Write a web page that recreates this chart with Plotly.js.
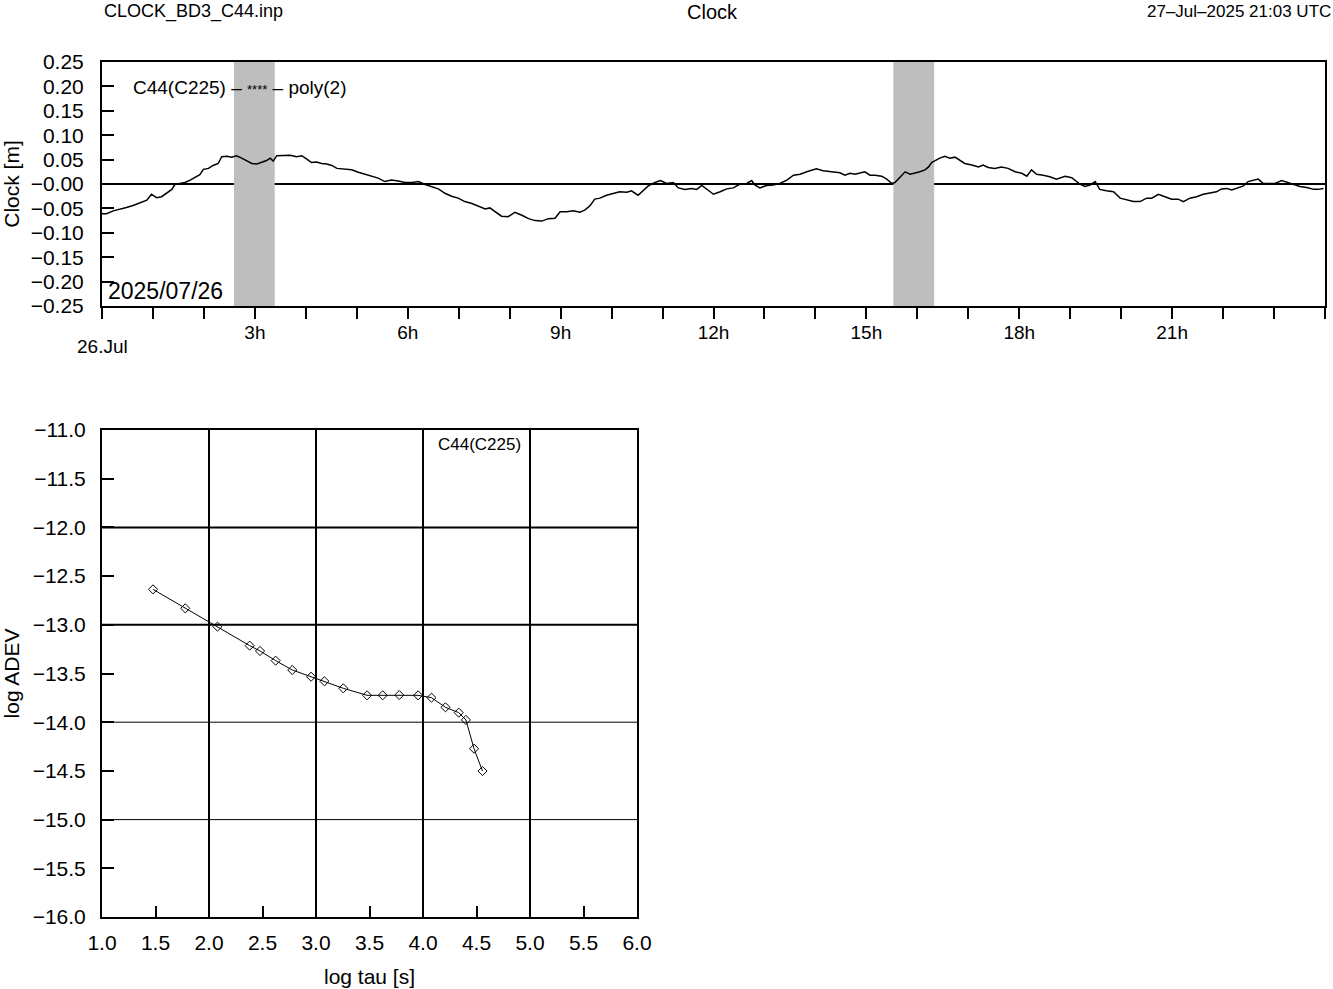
<!DOCTYPE html>
<html>
<head>
<meta charset="utf-8">
<script src="https://cdn.plot.ly/plotly-3.0.1.min.js"></script>
<style>html,body{margin:0;padding:0;background:#fff;}#chart{width:1333px;height:989px;}</style>
</head>
<body>
<div id="chart"></div>
<script>
// ---- Clock series (hours since 26 Jul 00:00, clock residual in m) ----
const clockHours = [0.00,0.09,0.22,0.35,0.48,0.61,0.75,0.88,0.97,1.07,1.17,1.27,1.37,1.43,1.53,1.63,1.73,1.83,1.92,1.99,2.09,2.18,2.28,2.35,2.45,2.54,2.64,2.74,2.84,2.94,3.04,3.13,3.23,3.30,3.36,3.43,3.56,3.69,3.82,3.92,4.02,4.11,4.21,4.31,4.41,4.51,4.61,4.74,4.90,5.03,5.16,5.29,5.42,5.55,5.68,5.81,5.95,6.08,6.21,6.34,6.47,6.60,6.73,6.86,6.99,7.12,7.26,7.39,7.52,7.61,7.71,7.84,7.97,8.10,8.24,8.37,8.50,8.63,8.76,8.89,8.99,9.12,9.25,9.38,9.48,9.58,9.67,9.77,9.90,10.03,10.16,10.30,10.39,10.52,10.62,10.72,10.85,10.96,11.08,11.21,11.31,11.44,11.57,11.67,11.77,11.87,12.00,12.13,12.26,12.39,12.52,12.65,12.75,12.81,12.91,13.04,13.17,13.30,13.44,13.57,13.70,13.83,13.96,14.02,14.15,14.28,14.38,14.48,14.58,14.68,14.78,14.88,14.97,15.07,15.17,15.30,15.40,15.50,15.56,15.66,15.76,15.86,15.96,16.05,16.15,16.22,16.28,16.35,16.44,16.54,16.64,16.74,16.84,16.93,17.07,17.20,17.29,17.39,17.52,17.65,17.78,17.92,18.05,18.15,18.24,18.34,18.47,18.60,18.73,18.90,19.03,19.13,19.19,19.29,19.39,19.49,19.58,19.71,19.85,19.98,20.11,20.24,20.37,20.50,20.60,20.73,20.86,20.99,21.12,21.22,21.35,21.48,21.61,21.74,21.87,21.97,22.07,22.17,22.27,22.40,22.49,22.59,22.69,22.79,22.89,23.02,23.15,23.28,23.41,23.51,23.64,23.78,23.87,23.97];
const clockValues = [-0.061,-0.061,-0.055,-0.052,-0.048,-0.044,-0.038,-0.033,-0.021,-0.028,-0.026,-0.018,-0.011,-0.001,0.001,0.003,0.008,0.014,0.019,0.030,0.032,0.038,0.042,0.056,0.057,0.055,0.058,0.053,0.047,0.042,0.041,0.044,0.048,0.053,0.047,0.058,0.059,0.059,0.056,0.058,0.051,0.044,0.045,0.042,0.041,0.038,0.032,0.031,0.029,0.024,0.020,0.015,0.012,0.005,0.008,0.006,0.003,0.003,0.005,-0.001,-0.005,-0.010,-0.019,-0.025,-0.029,-0.036,-0.040,-0.046,-0.051,-0.049,-0.057,-0.066,-0.067,-0.058,-0.064,-0.071,-0.075,-0.076,-0.071,-0.070,-0.057,-0.057,-0.055,-0.058,-0.053,-0.044,-0.031,-0.029,-0.023,-0.019,-0.016,-0.017,-0.014,-0.023,-0.014,-0.004,0.003,0.007,0.001,0.003,-0.008,-0.011,-0.009,-0.011,-0.003,-0.011,-0.021,-0.016,-0.010,-0.008,0.000,0.001,0.007,-0.002,-0.008,-0.003,-0.002,0.001,0.008,0.018,0.020,0.025,0.029,0.031,0.027,0.025,0.024,0.023,0.018,0.022,0.020,0.023,0.025,0.018,0.018,0.016,0.010,0.001,0.003,0.014,0.025,0.020,0.022,0.025,0.029,0.035,0.044,0.048,0.053,0.057,0.053,0.055,0.048,0.042,0.039,0.035,0.039,0.034,0.032,0.035,0.032,0.025,0.022,0.016,0.029,0.020,0.018,0.015,0.010,0.016,0.013,0.006,0.000,-0.005,-0.002,0.005,-0.011,-0.014,-0.016,-0.029,-0.033,-0.036,-0.036,-0.029,-0.029,-0.021,-0.026,-0.031,-0.031,-0.036,-0.029,-0.026,-0.021,-0.018,-0.016,-0.010,-0.009,-0.012,-0.009,-0.004,0.005,0.007,0.010,0.001,0.001,0.001,0.007,0.003,-0.002,-0.005,-0.007,-0.011,-0.011,-0.009];

// eclipse / excluded intervals (hours)
const bandStart = [2.59, 15.53];
const bandEnd   = [3.39, 16.33];

// time axis ticks
const hourTickVals = [0,1,2,3,4,5,6,7,8,9,10,11,12,13,14,15,16,17,18,19,20,21,22,23,24];
const hourTickText = ["","","","3h","","","6h","","","9h","","","12h","","","15h","","","18h","","","21h","","",""];
const clockTickVals = [0.25,0.20,0.15,0.10,0.05,0.00,-0.05,-0.10,-0.15,-0.20,-0.25];
const clockTickText = ["0.25","0.20","0.15","0.10","0.05","\u22120.00","\u22120.05","\u22120.10","\u22120.15","\u22120.20","\u22120.25"];

// ---- Allan deviation ----
const logTau  = [1.477,1.778,2.079,2.380,2.477,2.623,2.778,2.954,3.079,3.255,3.477,3.623,3.778,3.954,4.079,4.210,4.334,4.401,4.477,4.556];
const logAdev = [-12.636,-12.831,-13.019,-13.214,-13.269,-13.368,-13.464,-13.533,-13.580,-13.652,-13.724,-13.724,-13.721,-13.724,-13.748,-13.847,-13.902,-13.977,-14.272,-14.501];
const tauTickVals = [1.0,1.5,2.0,2.5,3.0,3.5,4.0,4.5,5.0,5.5,6.0];
const tauTickText = ["1.0","1.5","2.0","2.5","3.0","3.5","4.0","4.5","5.0","5.5","6.0"];
const adevTickVals = [-11.0,-11.5,-12.0,-12.5,-13.0,-13.5,-14.0,-14.5,-15.0,-15.5,-16.0];
const adevTickText = ["\u221211.0","\u221211.5","\u221212.0","\u221212.5","\u221213.0","\u221213.5","\u221214.0","\u221214.5","\u221215.0","\u221215.5","\u221216.0"];
const tauGrid = [2,3,4,5];
const adevGrid = [-12,-13,-14,-15];
const adevGridWidth = [2,2,1,1];

const W = 1333, H = 989;
const FONT = "Liberation Sans, Arial, Helvetica, sans-serif";
const px = v => v / W;
const py = v => 1 - v / H;

const traces = [
  {x: clockHours, y: clockValues, type: 'scatter', mode: 'lines',
   line: {color: '#000', width: 1.5}, xaxis: 'x', yaxis: 'y', hoverinfo: 'skip'},
  {x: logTau, y: logAdev, type: 'scatter', mode: 'lines+markers',
   line: {color: '#000', width: 1},
   marker: {symbol: 'diamond-open', size: 7, color: '#000', line: {width: 1, color: '#000'}},
   xaxis: 'x2', yaxis: 'y2', hoverinfo: 'skip'}
];

const shapes = [];
// zero line of clock plot
shapes.push({type: 'line', xref: 'x domain', yref: 'y', x0: 0, x1: 1, y0: 0, y1: 0,
             line: {color: '#000', width: 2}, layer: 'below'});
for (let i = 0; i < bandStart.length; i++) {
  shapes.push({type: 'rect', xref: 'x', yref: 'y domain', x0: bandStart[i], x1: bandEnd[i], y0: 0, y1: 1,
               fillcolor: '#bebebe', line: {width: 0}, layer: 'below'});
}
tauGrid.forEach(v => shapes.push({type: 'line', xref: 'x2', yref: 'y2 domain', x0: v, x1: v, y0: 0, y1: 1,
             line: {color: '#000', width: 2}, layer: 'below'}));
adevGrid.forEach((v, i) => shapes.push({type: 'line', xref: 'x2 domain', yref: 'y2', x0: 0, x1: 1, y0: v, y1: v,
             line: {color: '#000', width: adevGridWidth[i]}, layer: 'below'}));

const axisCommon = {showline: true, linecolor: '#000', linewidth: 2, mirror: true,
                    showgrid: false, zeroline: false, tickcolor: '#000', tickwidth: 2,
                    fixedrange: true};

const layout = {
  width: W, height: H,
  margin: {l: 0, r: 0, t: 0, b: 0},
  paper_bgcolor: '#fff', plot_bgcolor: '#fff',
  showlegend: false,
  font: {family: FONT, color: '#000', size: 18},
  xaxis: Object.assign({}, axisCommon, {
    domain: [px(102), px(1325)], range: [0, 24], anchor: 'y',
    tickmode: 'array', tickvals: hourTickVals, ticktext: hourTickText,
    ticks: 'outside', ticklen: 11, tickfont: {size: 19}, ticklabelstandoff: -3
  }),
  yaxis: Object.assign({}, axisCommon, {
    domain: [py(306), py(62)], range: [-0.25, 0.25], anchor: 'x',
    tickmode: 'array', tickvals: clockTickVals, ticktext: clockTickText,
    ticks: 'inside', ticklen: 12, tickfont: {size: 21}, ticklabelstandoff: 12,
    title: {text: 'Clock [m]', font: {size: 21}, standoff: 8}
  }),
  xaxis2: Object.assign({}, axisCommon, {
    domain: [px(102), px(637)], range: [1, 6], anchor: 'y2',
    tickmode: 'array', tickvals: tauTickVals, ticktext: tauTickText,
    ticks: 'inside', ticklen: 11, tickfont: {size: 21}, ticklabelstandoff: 6,
    title: {text: 'log tau [s]', font: {size: 21}, standoff: 16}
  }),
  yaxis2: Object.assign({}, axisCommon, {
    domain: [py(917), py(430)], range: [-16, -11], anchor: 'x2',
    tickmode: 'array', tickvals: adevTickVals, ticktext: adevTickText,
    ticks: 'inside', ticklen: 12, tickfont: {size: 21}, ticklabelstandoff: 10,
    title: {text: 'log ADEV', font: {size: 21}, standoff: 8}
  }),
  shapes: shapes,
  annotations: [
    {text: 'CLOCK_BD3_C44.inp', xref: 'paper', yref: 'paper', x: px(102), y: py(11),
     xanchor: 'left', yanchor: 'middle', showarrow: false, font: {size: 18}},
    {text: 'Clock', xref: 'paper', yref: 'paper', x: px(713), y: 1, borderpad: 0,
     xanchor: 'center', yanchor: 'top', showarrow: false, font: {size: 20}},
    {text: '27\u2013Jul\u20132025 21:03 UTC', xref: 'paper', yref: 'paper', x: 1, y: py(11),
     xanchor: 'right', yanchor: 'middle', showarrow: false, font: {size: 17}},
    {text: 'C44(C225) \u2013 <span style="font-size:13px">****</span> \u2013 poly(2)', xref: 'paper', yref: 'paper',
     x: px(131), y: py(87), xanchor: 'left', yanchor: 'middle', showarrow: false, font: {size: 19}},
    {text: '2025/07/26', xref: 'paper', yref: 'paper', x: px(106), y: py(306),
     xanchor: 'left', yanchor: 'bottom', showarrow: false, font: {size: 23}},
    {text: '26.Jul', xref: 'x', yref: 'paper', x: 0, y: py(346),
     xanchor: 'center', yanchor: 'middle', showarrow: false, font: {size: 19}},
    {text: 'C44(C225)', xref: 'paper', yref: 'paper', x: px(479), y: py(444),
     xanchor: 'center', yanchor: 'middle', showarrow: false, font: {size: 17}}
  ]
};

Plotly.newPlot('chart', traces, layout, {staticPlot: true, displayModeBar: false});
</script>
</body>
</html>
